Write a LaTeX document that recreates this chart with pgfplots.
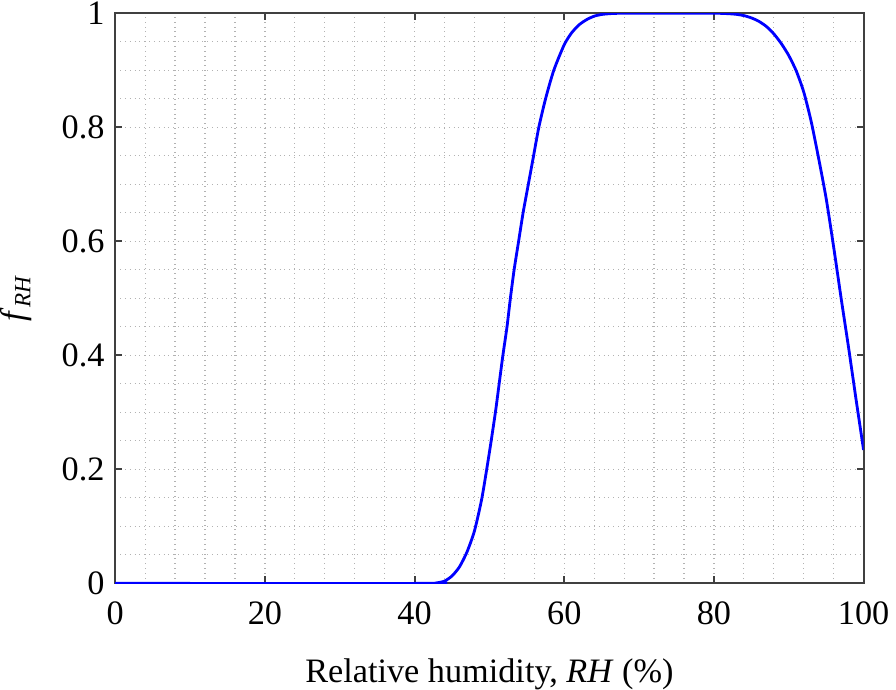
\documentclass[border=0pt]{standalone}
\usepackage{fontspec}
\setmainfont{Liberation Serif}
\usepackage{pgfplots}
\pgfplotsset{compat=1.18}
\begin{document}
\begin{tikzpicture}
\begin{axis}[
  scale only axis,
  width=371.5pt, height=283pt,
  xmin=0, xmax=100, ymin=0, ymax=1,
  xtick={0,20,40,60,80,100},
  ytick={0,0.2,0.4,0.6,0.8,1},
  yticklabels={0,0.2,0.4,0.6,0.8,1},
  minor x tick num=4,
  minor y tick num=3,
  grid=both,
  major grid style={gray!60, dotted, line width=0.6pt},
  minor grid style={gray!60, dotted, line width=0.6pt},
  tick align=inside,
  major tick length=3.5pt,
  minor tick length=0pt,
  axis line style={black!75, line width=1pt},
  tick style={black!75, line width=1pt},
  /pgf/number format/assume math mode=true,
  tick label style={font=\fontsize{17}{20}\selectfont},
  label style={font=\fontsize{17}{20}\selectfont},
  xlabel={Relative humidity, \textit{RH} (\%)},
  ylabel={\textit{f}\raisebox{-0.4ex}{\fontsize{11.5}{13}\selectfont\textit{RH}}},
  xlabel style={inner sep=0pt, yshift=-13.2pt},
  ylabel style={inner sep=0pt, yshift=11.5pt},
  xticklabel style={yshift=-5.7pt},
  yticklabel style={xshift=-1.8pt, inner ysep=1pt},
]
\addplot[blue, line width=1.4pt, smooth, tension=0.4] coordinates {
(0,0) (42,0) (43,0.001) (44,0.004) (45,0.013) (46,0.029) (47,0.055) (48,0.092) (49,0.15) (50,0.23)
(50.8,0.3) (51.3,0.35) (51.8,0.4) (52.35,0.45) (52.8,0.5) (53.3,0.55) (53.9,0.6)
(54.5,0.65) (55.2,0.7) (55.9,0.75) (56.6,0.8) (57.5,0.85) (58.6,0.9) (60,0.945)
(61,0.966) (62,0.98) (63,0.989) (64,0.995) (65,0.998) (66,0.9993) (67,0.9999) (68,1) (80,1)
(81,0.9998) (82,0.9993) (83,0.9982) (84,0.996) (85,0.992) (86,0.986) (87,0.977) (88,0.964) (89,0.947) (90,0.926)
(91,0.899) (92,0.862) (93,0.81) (94,0.745) (95,0.675) (96,0.59) (97,0.5) (98,0.413)
(99,0.322) (100,0.234)
};
\end{axis}
\end{tikzpicture}
\end{document}
